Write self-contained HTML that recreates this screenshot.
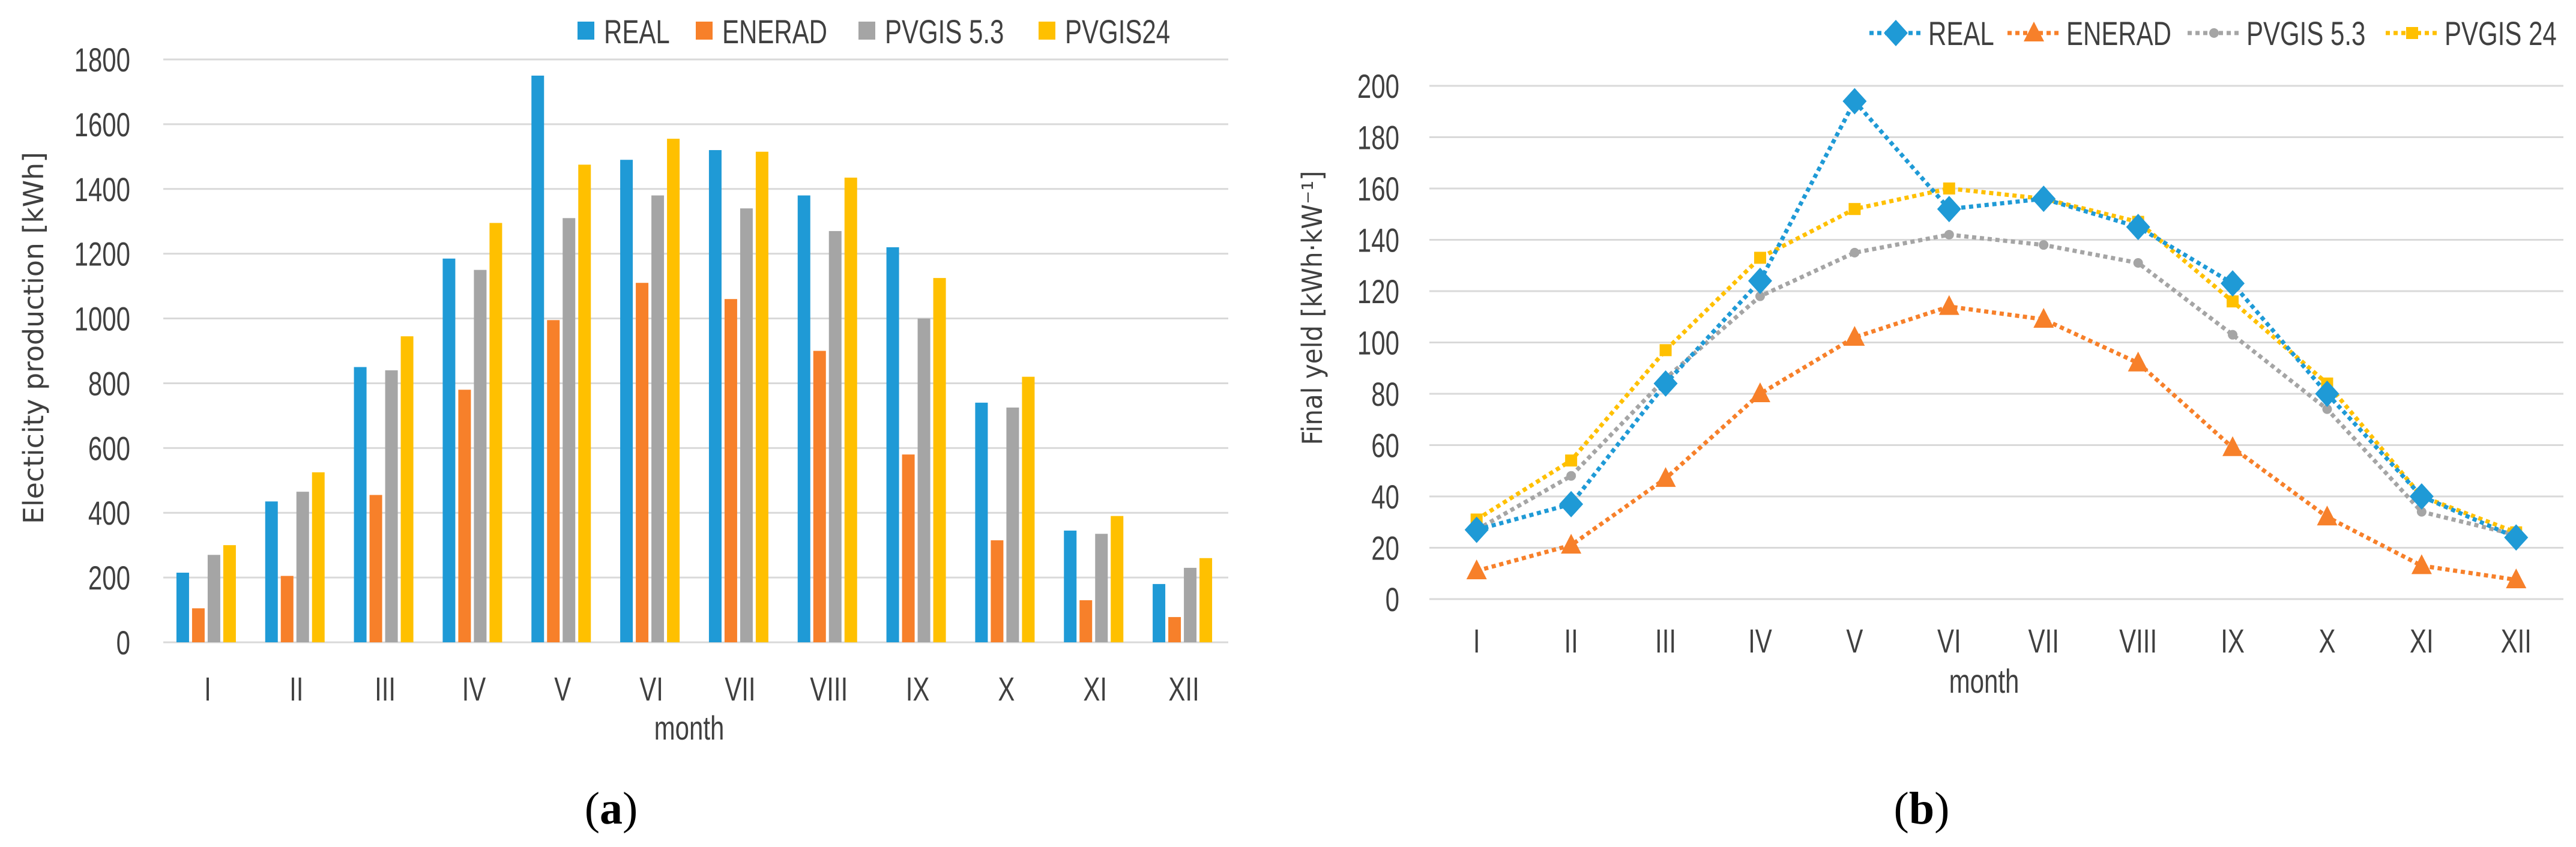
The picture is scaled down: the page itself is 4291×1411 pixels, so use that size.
<!DOCTYPE html>
<html><head><meta charset="utf-8"><style>
html,body{margin:0;padding:0;background:#fff;}
svg{display:block;}
text{fill:#404040;}
.tk{font-family:"Liberation Sans",sans-serif;font-size:56px;}
.lg{font-family:"Liberation Sans",sans-serif;font-size:56px;}
.yt{font-family:"DejaVu Sans","Liberation Sans",sans-serif;font-size:46px;}
.cap{font-family:"Liberation Serif",serif;font-size:76px;fill:#000;}
</style></head><body>
<svg id="root" width="4291" height="1411" viewBox="0 0 4291 1411" xmlns="http://www.w3.org/2000/svg">
<g id="ca"></g>
<g id="cb"></g>
</svg>
<script>
const months = ["I","II","III","IV","V","VI","VII","VIII","IX","X","XI","XII"];
const barReal = [215,435,850,1185,1750,1490,1520,1380,1220,740,345,180];
const barEnerad = [105,205,455,780,995,1110,1060,900,580,315,130,78];
const barPvgis53 = [270,465,840,1150,1310,1380,1340,1270,1000,725,335,230];
const barPvgis24 = [300,525,945,1295,1475,1555,1515,1435,1125,820,390,260];
const barTicks = [0,200,400,600,800,1000,1200,1400,1600,1800];
const lineReal = [27,37,84,124,194,152,156,145,123,80,40,24];
const lineEnerad = [11,21,47,80,102,114,109,92,59,32,13,7.5];
const linePvgis53 = [27,48,86,118,135,142,138,131,103,74,34,25];
const linePvgis24 = [31,54,97,133,152,160,156,147,116,84,40,26];
const lineTicks = [0,20,40,60,80,100,120,140,160,180,200];
const barNames = ["REAL","ENERAD","PVGIS 5.3","PVGIS24"];
const lineNames = ["REAL","ENERAD","PVGIS 5.3","PVGIS 24"];
const colors = ["#1f9ad6","#f7802a","#a5a5a5","#ffc000"];

const NS="http://www.w3.org/2000/svg";
function mk(tag,attrs,parent,txt){const e=document.createElementNS(NS,tag);for(const k in attrs)e.setAttribute(k,attrs[k]);if(txt!==undefined)e.textContent=txt;parent.appendChild(e);return e;}
function narrow(t){const w=t.getComputedTextLength();if(w>0){t.setAttribute('textLength',(w*0.75).toFixed(1));t.setAttribute('lengthAdjust','spacingAndGlyphs');}}

// ---- Chart A
const A=document.getElementById('ca');
const aL=272,aR=2046,aT=99,aB=1070,aMax=1800;
const ay=v=>aB-(v/aMax)*(aB-aT);
const aBand=(aR-aL)/12;
barTicks.forEach(t=>{
  const l=mk('line',{x1:aL,x2:aR,y1:ay(t),y2:ay(t),stroke:'#d9d9d9','stroke-width':3},A);
  
  
  const tx=mk('text',{x:217,y:ay(t)+20,'text-anchor':'end',class:'tk'},A,String(t));
  
  
  narrow(tx);
});
const aSeries=[barReal,barEnerad,barPvgis53,barPvgis24];
aSeries.forEach((s,si)=>{
  s.forEach((v,i)=>{
    const cx=aL+aBand*(i+0.5);
    const x=cx-52+si*26;
    const r=mk('rect',{x:x,y:ay(v),width:21,height:aB-ay(v),fill:colors[si]},A);
    
    
  });
});
months.forEach((m,i)=>{
  const t=mk('text',{x:aL+aBand*(i+0.5),y:1167,'text-anchor':'middle',class:'tk'},A,m);
  
  
  narrow(t);
});
const axa=mk('text',{x:1148,y:1232,'text-anchor':'middle',class:'tk'},A,'month');


narrow(axa);
const yta=mk('text',{x:0,y:0,transform:'translate(72,563) rotate(-90)','text-anchor':'middle',class:'yt',textLength:620,lengthAdjust:'spacingAndGlyphs'},A,'Electicity production  [kWh]');


const legAx=[962,1159,1430,1730];
barNames.forEach((n,i)=>{
  const g=mk('g',{},A);
  
  
  mk('rect',{x:legAx[i],y:36,width:28,height:30,fill:colors[i]},g);
  const t=mk('text',{x:legAx[i]+44,y:72,class:'lg'},g,n);
  narrow(t);
});
const capa=mk('text',{x:1018,y:1372,'text-anchor':'middle',class:'cap'},A);


capa.innerHTML='(<tspan font-weight="bold">a</tspan>)';

// ---- Chart B
const B=document.getElementById('cb');
const bL=2381,bR=4270,bT=143,bB=998,bMax=200;
const by=v=>bB-(v/bMax)*(bB-bT);
const bBand=(bR-bL)/12;
const bx=i=>bL+bBand*(i+0.5);
lineTicks.forEach(t=>{
  const l=mk('line',{x1:bL,x2:bR,y1:by(t),y2:by(t),stroke:'#d9d9d9','stroke-width':3},B);
  
  
  const tx=mk('text',{x:2331,y:by(t)+20,'text-anchor':'end',class:'tk'},B,String(t));
  
  
  narrow(tx);
});
function marker(kind,x,y,c,parent){
  if(kind===0) return mk('polygon',{points:`${x},${y-22} ${x+20},${y} ${x},${y+22} ${x-20},${y}`,fill:c},parent);
  if(kind===1) return mk('polygon',{points:`${x},${y-19} ${x+17},${y+14} ${x-17},${y+14}`,fill:c},parent);
  if(kind===2) return mk('circle',{cx:x,cy:y,r:8,fill:c},parent);
  return mk('rect',{x:x-10,y:y-10,width:20,height:20,fill:c},parent);
}
const bSeries=[linePvgis53,lineEnerad,linePvgis24,lineReal];
const bKinds=[2,1,3,0];
const bCols=[colors[2],colors[1],colors[3],colors[0]];
const bNm=["pvgis-5-3","enerad","pvgis-24","real"];
bSeries.forEach((s,si)=>{
  const p=mk('polyline',{points:s.map((v,i)=>bx(i)+','+by(v)).join(' '),fill:'none',stroke:bCols[si],'stroke-width':7,'stroke-dasharray':'7 6'},B);
  
  
  s.forEach((v,i)=>{
    const m=marker(bKinds[si],bx(i),by(v),bCols[si],B);
    
    
  });
});
months.forEach((m,i)=>{
  const t=mk('text',{x:bx(i),y:1087,'text-anchor':'middle',class:'tk'},B,m);
  
  
  narrow(t);
});
const axb=mk('text',{x:3305,y:1154,'text-anchor':'middle',class:'tk'},B,'month');


narrow(axb);
const ytb=mk('text',{x:0,y:0,transform:'translate(2202,513) rotate(-90)','text-anchor':'middle',class:'yt',textLength:457,lengthAdjust:'spacingAndGlyphs'},B,'Final yeld [kWh·kW⁻¹]');


const legBx=[3114,3344,3644,3974];
const legKinds=[0,1,2,3];
const legCols=colors;
lineNames.forEach((n,i)=>{
  const g=mk('g',{},B);
  
  
  const x0=legBx[i];
  mk('line',{x1:x0,x2:x0+88,y1:55,y2:55,stroke:legCols[i],'stroke-width':7,'stroke-dasharray':'7 6'},g);
  marker(legKinds[i],x0+44,55,legCols[i],g);
  const t=mk('text',{x:x0+98,y:75,class:'lg'},g,n);
  narrow(t);
});
const capb=mk('text',{x:3201,y:1372,'text-anchor':'middle',class:'cap'},B);


capb.innerHTML='(<tspan font-weight="bold">b</tspan>)';
</script>
</body></html>
